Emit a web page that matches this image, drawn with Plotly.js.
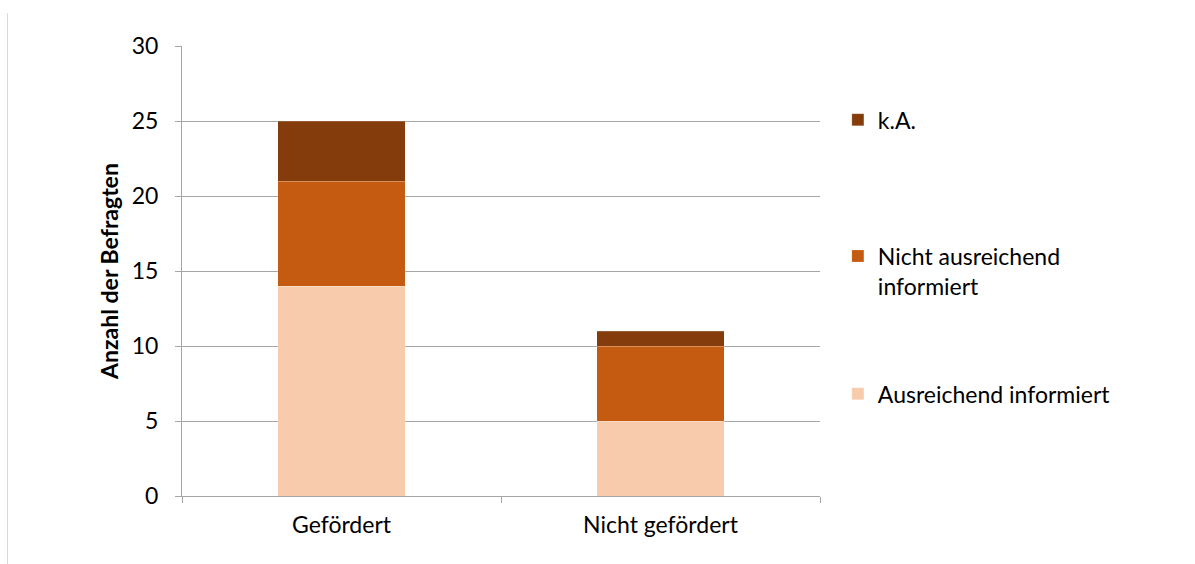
<!DOCTYPE html>
<html>
<head>
<meta charset="utf-8">
<script src="https://cdn.plot.ly/plotly-3.0.1.min.js"></script>
<style>html,body{margin:0;padding:0;background:#fff;}#chart{width:1195px;height:564px;}</style>
</head>
<body>
<div id="chart"></div>
<script>
const categories = ["Gefördert", "Nicht gefördert"];
const seriesNames = ["Ausreichend informiert", "Nicht ausreichend<br>informiert", "k.A."];
const ausreichend = [14, 5];
const nichtAusreichend = [7, 5];
const keineAngabe = [4, 1];
const yTicks = [0, 5, 10, 15, 20, 25, 30];

const colors = ["#F8CBAD", "#C55A11", "#843C0C"];
const fontFam = "Lato, 'Open Sans', sans-serif";
const fs = 23;

const traces = [
  {type: "bar", name: seriesNames[0], x: categories, y: ausreichend, marker: {color: colors[0], line: {color: "rgba(255,255,255,0.35)", width: 0.5}}, legend: "legend3"},
  {type: "bar", name: seriesNames[1], x: categories, y: nichtAusreichend, marker: {color: colors[1], line: {color: "rgba(255,255,255,0.35)", width: 0.5}}, legend: "legend2"},
  {type: "bar", name: seriesNames[2], x: categories, y: keineAngabe, marker: {color: colors[2], line: {color: "rgba(255,255,255,0.35)", width: 0.5}}, legend: "legend"}
];

const legendBase = {xanchor: "left", yanchor: "middle", bgcolor: "rgba(0,0,0,0)", font: {family: fontFam, size: fs, color: "#000"}, valign: "top", itemwidth: 30};

const layout = {
  width: 1195, height: 564,
  margin: {l: 182, r: 375, t: 46, b: 68},
  paper_bgcolor: "#fff", plot_bgcolor: "#fff",
  barmode: "stack",
  bargap: 0.6,
  font: {family: fontFam, size: fs, color: "#000"},
  xaxis: {
    type: "category",
    showgrid: false,
    showline: true, linecolor: "#A6A6A6", linewidth: 1,
    ticks: "outside", tickson: "boundaries", ticklen: 6, tickcolor: "#A6A6A6",
    ticklabelstandoff: 8,
    tickfont: {family: fontFam, size: fs, color: "#000"},
    zeroline: false
  },
  yaxis: {
    range: [0, 30],
    tickvals: yTicks,
    ticktext: yTicks.map(String),
    showgrid: true, gridcolor: "#A6A6A6", gridwidth: 1,
    showline: true, linecolor: "#A6A6A6", linewidth: 1,
    ticks: "outside", ticklen: 6, tickcolor: "#A6A6A6",
    ticklabelstandoff: 12,
    tickfont: {family: fontFam, size: fs, color: "#000"},
    zeroline: false,
    title: {text: "<b>Anzahl der Befragten</b>", font: {family: fontFam, size: fs, color: "#000"}, standoff: 6}
  },
  showlegend: true,
  legend: Object.assign({}, legendBase, {x: 1.028, y: 0.836}),
  legend2: Object.assign({}, legendBase, {x: 1.028, y: 0.5}),
  legend3: Object.assign({}, legendBase, {x: 1.028, y: 0.227}),
  shapes: [
    {type: "line", xref: "paper", yref: "paper", x0: -0.2735, x1: -0.2735, y0: 1.073, y1: -0.16, line: {color: "#D9D9D9", width: 1}}
  ]
};

Plotly.newPlot("chart", traces, layout, {displayModeBar: false, staticPlot: true});
</script>
</body>
</html>
